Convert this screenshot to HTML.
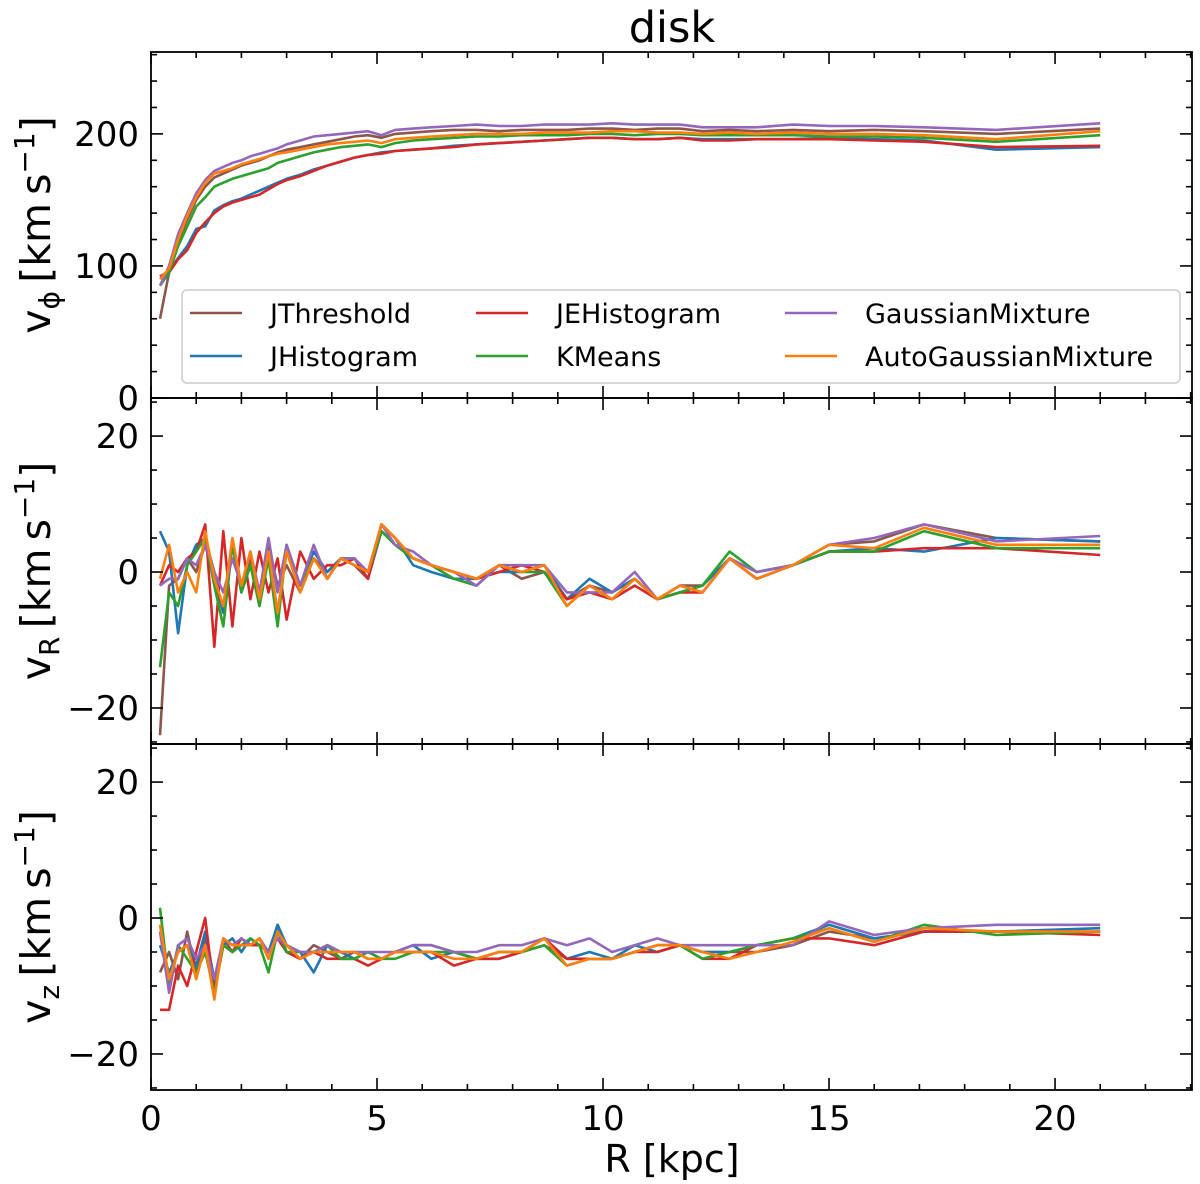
<!DOCTYPE html>
<html><head><meta charset="utf-8"><style>
html,body{margin:0;padding:0;background:#fff;}
svg{display:block;font-family:"DejaVu Sans","Liberation Sans",sans-serif;}
</style></head><body>
<svg id="chart" width="1200" height="1184" viewBox="0 0 1200 1184" xmlns="http://www.w3.org/2000/svg"></svg>
<script>
const R = [0.2,0.4,0.6,0.8,1.0,1.2,1.4,1.6,1.8,2.0,2.2,2.4,2.6,2.8,3.0,3.3,3.6,3.9,4.2,4.5,4.8,5.1,5.4,5.8,6.2,6.7,7.2,7.7,8.2,8.7,9.2,9.7,10.2,10.7,11.2,11.7,12.2,12.8,13.4,14.2,15.0,16.0,17.1,18.7,21.0];
const seriesNames = ["JThreshold","JHistogram","JEHistogram","KMeans","GaussianMixture","AutoGaussianMixture"];
const seriesColors = ["#8c564b","#1f77b4","#d62728","#2ca02c","#9467bd","#ff7f0e"];
// v_phi
const vphiJThreshold = [60,95,118,135,150,160,167,170,173,176,178,180,183,186,188,190,192,194,196,198,199,197,200,201,202,203,203,202,203,203,203,204,204,203,204,204,202,203,202,203,202,203,202,200,204];
const vphiJHistogram = [92,96,106,115,128,130,142,146,149,151,154,157,160,163,166,169,173,176,179,182,184,186,187,188,189,191,192,193,194,195,196,197,197,196,196,197,196,196,196,196,197,196,195,188,190];
const vphiJEHistogram = [92,95,105,112,125,133,140,145,148,150,152,154,158,162,165,168,172,176,179,182,184,185,187,188,189,190,192,193,194,195,196,197,197,196,196,197,195,195,196,196,196,195,194,190,191];
const vphiKMeans = [85,95,115,130,145,152,160,163,166,168,170,172,174,178,180,183,186,188,190,191,192,190,193,195,196,197,198,198,199,199,199,200,200,199,200,200,199,199,199,199,198,198,197,194,199];
const vphiGaussianMixture = [85,100,124,140,155,165,172,175,178,180,183,185,187,189,192,195,198,199,200,201,202,199,203,204,205,206,207,206,206,207,207,207,208,207,207,207,205,205,205,207,206,206,205,203,208];
const vphiAutoGaussianMixture = [90,98,120,138,152,163,170,172,174,177,179,181,183,185,186,188,190,192,193,194,195,193,196,197,198,199,200,200,200,201,201,201,202,202,201,201,200,201,200,201,200,200,199,196,202];
// v_R
const vRJThreshold = [-24,-2,-1,2,0,4,-1,-6,4,-2,2,-5,4,-2,1,-3,2,0,2,1,-1,6,4,2,1,0,-1,1,-1,0,-4,-2,-3,-1,-4,-2,-2,2,0,1,4,4.5,7,5,4.5];
const vRJHistogram = [6,3,-9,1,4,5,0,-6,4,-3,1,-4,3,-6,3,-2,3,0,2,1,0,7,5,1,0,-1,-1,0,0,1,-4,-1,-3,-1,-4,-3,-2,2,-1,1,3,3.5,3,5,4.5];
const vRJEHistogram = [-2,1,0,2,3,7,-11,6,-8,5,-4,3,-3,2,-7,3,-1,1,1,2,-1,7,5,2,1,0,-1,0,1,0,-4,-3,-4,-2,-4,-3,-3,2,-1,1,3,3,3.5,3.5,2.5];
const vRKMeans = [-14,-3,-5,1,3,5,-2,-8,4,-3,1,-5,2,-8,4,-2,2,-1,2,2,0,6,4,2,1,-1,-2,1,0,0,-5,-2,-4,-1,-4,-3,-2,3,0,1,3,3,6,3.5,3.5];
const vRGaussianMixture = [-2,-1,-1,2,1,4,0,-3,2,-2,3,-3,5,-3,4,-2,4,-1,2,2,0,7,4,3,1,0,-2,1,1,1,-3,-3,-3,0,-4,-2,-3,2,0,1,4,5,7,4.5,5.3];
const vRAutoGaussianMixture = [-1,4,-3,0,-3,6,-1,-5,5,-2,3,-4,3,-6,3,-3,2,-1,2,1,0,7,5,2,1,0,-1,1,0,1,-5,-2,-4,-1,-4,-2,-3,2,-1,1,4,3.5,6.5,4,4];
// v_z
const vzJThreshold = [-8,-5,-9,-2,-8,-3,-10,-3,-5,-3,-4,-3,-6,-1,-5,-6,-4,-5,-6,-5,-6,-6,-5,-4,-4,-5,-6,-5,-5,-4,-6,-6,-6,-5,-4,-4,-5,-5,-5,-4,-2,-3,-2,-2,-2];
const vzJHistogram = [-4,-8,-5,-4,-7,-2,-9,-4,-3,-5,-3,-4,-5,-1,-4,-5,-8,-4,-5,-6,-5,-6,-5,-4,-6,-5,-6,-6,-5,-3,-6,-5,-6,-4,-5,-4,-5,-5,-4,-3,-1,-3,-2,-2,-1.5];
const vzJEHistogram = [-13.5,-13.5,-7,-10,-5,0,-11,-4,-5,-3,-4,-4,-5,-3,-5,-6,-5,-6,-6,-6,-7,-6,-5,-5,-5,-7,-6,-6,-5,-3,-6,-6,-6,-5,-5,-4,-6,-6,-4,-3,-3,-4,-2,-2,-2.5];
const vzKMeans = [1.5,-10,-4,-6,-8,-5,-11,-4,-5,-4,-3,-4,-8,-2,-5,-5,-5,-4,-6,-6,-5,-6,-6,-5,-5,-5,-6,-5,-5,-4,-7,-6,-6,-5,-4,-4,-6,-5,-4,-3,-1.5,-3.5,-1,-2.5,-2];
const vzGaussianMixture = [-2,-11,-4,-3,-6,-4,-9,-3,-4,-3,-4,-3,-5,-3,-4,-5,-5,-4,-5,-5,-5,-5,-5,-4,-4,-5,-5,-4,-4,-3,-4,-3,-5,-4,-3,-4,-4,-4,-4,-4,-0.5,-2.5,-1.5,-1,-1];
const vzAutoGaussianMixture = [-1,-9,-5,-4,-9,-4,-12,-3,-4,-4,-4,-3,-6,-2,-4,-6,-5,-5,-5,-5,-6,-6,-5,-5,-5,-6,-6,-5,-5,-3,-7,-6,-6,-5,-4,-4,-5,-6,-5,-3.5,-1.5,-3.5,-1.5,-2,-2];

const panels = [
  {key:"vphi", top:52, bottom:398, ymin:0, ymax:262, major:[0,100,200], minorStep:20, sub:"ϕ",
   data:[vphiJThreshold,vphiJHistogram,vphiJEHistogram,vphiKMeans,vphiGaussianMixture,vphiAutoGaussianMixture]},
  {key:"vR", top:398, bottom:744, ymin:-25.3, ymax:25.6, major:[-20,0,20], minorStep:5, sub:"R",
   data:[vRJThreshold,vRJHistogram,vRJEHistogram,vRKMeans,vRGaussianMixture,vRAutoGaussianMixture]},
  {key:"vz", top:744, bottom:1090, ymin:-25.3, ymax:25.6, major:[-20,0,20], minorStep:5, sub:"z",
   data:[vzJThreshold,vzJHistogram,vzJEHistogram,vzKMeans,vzGaussianMixture,vzAutoGaussianMixture]}
];
const xTicks = [0,5,10,15,20];
const X0 = 151, X1 = 1192, XMAX = 23.03;
const NS = "http://www.w3.org/2000/svg";
const svg = document.getElementById("chart");
function el(tag, attrs, parent){ const e=document.createElementNS(NS,tag); for(const k in attrs) e.setAttribute(k,attrs[k]); (parent||svg).appendChild(e); return e; }
function xs(v){ return X0 + (v/XMAX)*(X1-X0); }

const title = el("text",{x:672,y:42,"text-anchor":"middle","font-size":43});
title.textContent="disk";



panels.forEach((p)=>{
  const g = el("g",{});
  
  
  const ys = v => p.bottom - (v-p.ymin)/(p.ymax-p.ymin)*(p.bottom-p.top);
  p.data.forEach((arr,si)=>{
    const pts = arr.map((v,i)=>xs(R[i]).toFixed(1)+","+ys(v).toFixed(1)).join(" ");
    const line = el("polyline",{points:pts,fill:"none",stroke:seriesColors[si],"stroke-width":2.6,"stroke-linejoin":"round"},g);
    
    
  });
  const tg = el("g",{stroke:"#000","stroke-width":1.6},g);
  
  
  for(let v=0; v<=XMAX; v+=1){
    const x=xs(v), len = (v%5===0)?12:6;
    el("line",{x1:x,x2:x,y1:p.bottom,y2:p.bottom-len},tg);
    el("line",{x1:x,x2:x,y1:p.top,y2:p.top+len},tg);
  }
  const start = Math.ceil(p.ymin/p.minorStep)*p.minorStep;
  for(let v=start; v<=p.ymax; v+=p.minorStep){
    const y=ys(v), len = p.major.includes(v)?12:6;
    el("line",{x1:X0,x2:X0+len,y1:y,y2:y},tg);
    el("line",{x1:X1,x2:X1-len,y1:y,y2:y},tg);
  }
  p.major.forEach(v=>{
    const t = el("text",{x:X0-12,y:ys(v)+12,"text-anchor":"end","font-size":34},g);
    t.textContent = v<0 ? "\u2212"+Math.abs(v) : String(v);
    
    
  });
  const fr = el("rect",{x:X0,y:p.top,width:X1-X0,height:p.bottom-p.top,fill:"none",stroke:"#000","stroke-width":1.8},g);
  
  
  const cy=(p.top+p.bottom)/2;
  const yl = el("text",{x:0,y:0,"font-size":41,"text-anchor":"middle",transform:`translate(50,${cy}) rotate(-90)`},g);
  yl.innerHTML = `v<tspan font-size="28" dy="9">${p.sub}</tspan><tspan dy="-9">\u2009[km\u2009s</tspan><tspan font-size="28" dy="-16">\u22121</tspan><tspan dy="16">]</tspan>`;
  
  
});

xTicks.forEach(v=>{
  const t = el("text",{x:xs(v),y:1130,"text-anchor":"middle","font-size":34});
  t.textContent=String(v);
  
  
});
const xl = el("text",{x:672,y:1172,"text-anchor":"middle","font-size":38});
xl.textContent="R [kpc]";



const lg = el("g",{});


el("rect",{x:182,y:290,width:998,height:93,rx:5,fill:"#fff","fill-opacity":0.85,stroke:"#ccc","stroke-width":1.5},lg);
const legPos = [[190,313],[190,356],[476,313],[476,356],[785,313],[785,356]];
seriesNames.forEach((n,i)=>{
  const [lx,ly]=legPos[i];
  const e = el("g",{},lg);
  
  
  el("line",{x1:lx,x2:lx+52,y1:ly,y2:ly,stroke:seriesColors[i],"stroke-width":2.6},e);
  const t = el("text",{x:lx+80,y:ly+10,"font-size":27},e);
  t.textContent=n;
});
</script>
</body></html>
